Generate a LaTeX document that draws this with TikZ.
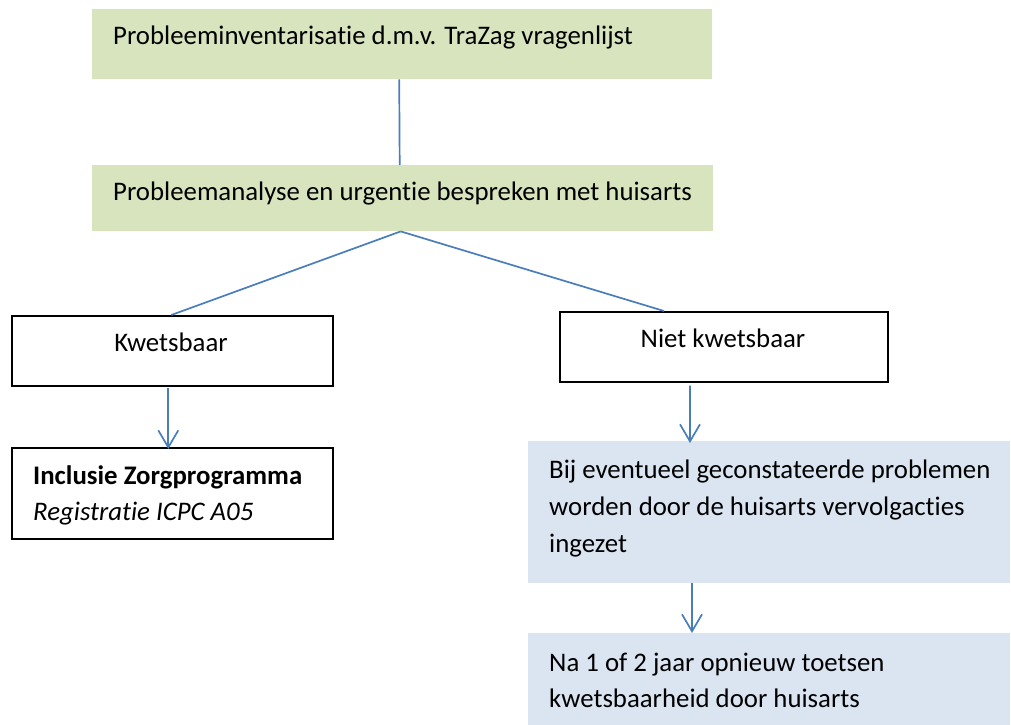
\documentclass[tikz,border=0pt]{standalone}
\usepackage{fontspec}
\setmainfont{Carlito}[Ligatures={NoCommon}]
\usetikzlibrary{arrows.meta,calc}
\definecolor{boxgreen}{HTML}{D7E4BD}
\definecolor{boxblue}{HTML}{DBE5F1}
\definecolor{linkblue}{HTML}{4A7EBB}
\begin{document}
\begin{tikzpicture}[x=1bp,y=-1bp,
  greenbox/.style={fill=boxgreen, draw=none, inner sep=0, anchor=north west},
  bluebox/.style={fill=boxblue, draw=none, inner sep=0, anchor=north west},
  whitebox/.style={fill=white, draw=black, line width=1.6bp, inner sep=0, anchor=north west},
  txt/.style={inner sep=0, font=\fontsize{26.8bp}{38bp}\selectfont},
  link/.style={draw=linkblue, line width=1.7bp},
  arr/.style={link, -{Straight Barb[length=17bp, width=20bp, line width=1.7bp]}}]
\useasboundingbox (0,0) rectangle (1011,725);
% boxes
\node[greenbox, minimum width=620bp, minimum height=70bp] (b1) at (92,9) {};
\node[greenbox, minimum width=621bp, minimum height=66bp] (b2) at (92,165) {};
\node[whitebox, minimum width=321bp, minimum height=70bp] (k) at (11,315) {};
\node[whitebox, minimum width=328bp, minimum height=70bp] (nk) at (559,311) {};
\node[whitebox, minimum width=321bp, minimum height=91bp] (inc) at (11,447) {};
\node[bluebox, minimum width=482bp, minimum height=142bp] (bl1) at (528,441) {};
\node[bluebox, minimum width=482bp, minimum height=95bp] (bl2) at (528,633) {};
% texts
\node[txt, anchor=base west] (t1) at (113,45) {Probleeminventarisatie d.m.v. TraZag vragenlijst};
\node[txt, anchor=base west] (t2) at (113,201) {Probleemanalyse en urgentie bespreken met huisarts};
\node[txt, anchor=base] (tk) at (171,351.5) {Kwetsbaar};
\node[txt, anchor=base] (tnk) at (723,347.5) {Niet kwetsbaar};
\node[txt, anchor=base west, font=\fontsize{26.8bp}{38bp}\selectfont\bfseries] (ti1) at (33,484) {Inclusie Zorgprogramma};
\node[txt, anchor=base west, font=\fontsize{26.8bp}{38bp}\selectfont\itshape] (ti2) at (33,520) {Registratie ICPC A05};
\node[txt, anchor=base west] (tb1) at (549,478) {Bij eventueel geconstateerde problemen};
\node[txt, anchor=base west] (tb2) at (549,515) {worden door de huisarts vervolgacties};
\node[txt, anchor=base west] (tb3) at (549,552) {ingezet};
\node[txt, anchor=base west] (tc1) at (549,671) {Na 1 of 2 jaar opnieuw toetsen};
\node[txt, anchor=base west] (tc2) at (549,707) {kwetsbaarheid door huisarts};
% connectors
\draw[link] ([xshift=-3bp]b1.south) -- ([xshift=-3bp]b2.north);
\draw[link] ([xshift=-2bp]b2.south) -- ([xshift=-1bp]k.north);
\draw[link] ([xshift=-2bp]b2.south) -- ([xshift=105bp]nk.north west);
\draw[arr] ([xshift=-4bp,yshift=-1bp]k.south) -- ([xshift=-4bp,yshift=-2bp]inc.north);
\draw[arr] ([xshift=131bp,yshift=-3bp]nk.south west) -- ([xshift=162bp,yshift=-2bp]bl1.north west);
\draw[arr] ([xshift=164bp]bl1.south west) -- ([xshift=164bp]bl2.north west);
\end{tikzpicture}
\end{document}
